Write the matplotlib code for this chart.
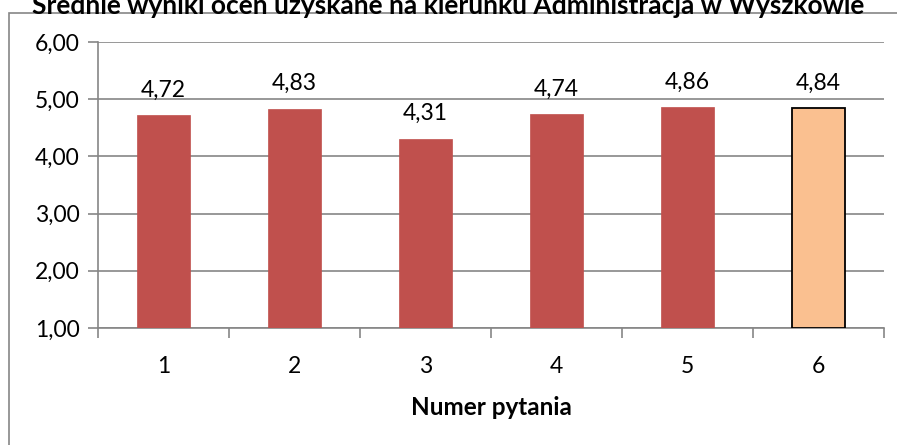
import matplotlib
matplotlib.use('Agg')
import matplotlib.pyplot as plt
from matplotlib.patches import Rectangle
from matplotlib.ticker import FixedLocator

questions = ['1', '2', '3', '4', '5', '6']
scores = [4.72, 4.83, 4.31, 4.74, 4.86, 4.84]
y_ticks = [1, 2, 3, 4, 5, 6]

title = 'Średnie wyniki ocen uzyskane na kierunku Administracja w Wyszkowie'
xlabel = 'Numer pytania'

plt.rcParams['font.family'] = ['Lato', 'DejaVu Sans']

grey = '#868686'
fig = plt.figure(figsize=(8.97, 4.45), dpi=100)

# outer chart frame, partly cut off like in the original screenshot
fig.patches.append(Rectangle((9 / 897, -0.1), 1.0, 1 - 13 / 445 + 0.1,
                             transform=fig.transFigure, fill=False,
                             edgecolor=grey, linewidth=1.2))

ax = fig.add_axes([98 / 897, 1 - 328 / 445, 786 / 897, 286 / 445])

x = list(range(len(questions)))
colors = ['#C0504D'] * 5 + ['#FAC090']
edges = ['#C0504D'] * 5 + ['black']
bars = ax.bar(x, [s - 1 for s in scores], bottom=1, width=0.4, color=colors,
              edgecolor=edges, linewidth=[0.5] * 5 + [1.3], zorder=3)

for xi, s in zip(x, scores):
    ax.annotate(f'{s:.2f}'.replace('.', ','), (xi, s), xytext=(0, 10.5),
                textcoords='offset points', ha='center', va='bottom', fontsize=16.5)

ax.set_xlim(-0.5, 5.5)
ax.set_ylim(1, 6)
ax.set_yticks(y_ticks)
ax.set_yticklabels([f'{v:.2f}'.replace('.', ',') for v in y_ticks], fontsize=16.5)
ax.set_xticks(x)
ax.set_xticklabels(questions, fontsize=16.5)
ax.xaxis.set_minor_locator(FixedLocator([i - 0.5 for i in range(7)]))
ax.tick_params(axis='x', which='major', length=0, pad=20)
ax.tick_params(axis='x', which='minor', length=7, color=grey, width=1.2, direction='out')
ax.tick_params(axis='y', length=7, color=grey, width=1.2, pad=6)

ax.grid(axis='y', color=grey, linewidth=1.2, zorder=0)
for side in ['top', 'right']:
    ax.spines[side].set_visible(False)
for side in ['left', 'bottom']:
    ax.spines[side].set_color(grey)
    ax.spines[side].set_linewidth(1.2)

ax.set_xlabel(xlabel, fontsize=17.5, fontweight='bold', labelpad=14)
# title is clipped at the top edge, same as in the source image
fig.text(0.5, 1 - 4 / 445, title, ha='center', va='center', fontsize=19,
         fontweight='bold')

fig.savefig('out.png', dpi=100)
